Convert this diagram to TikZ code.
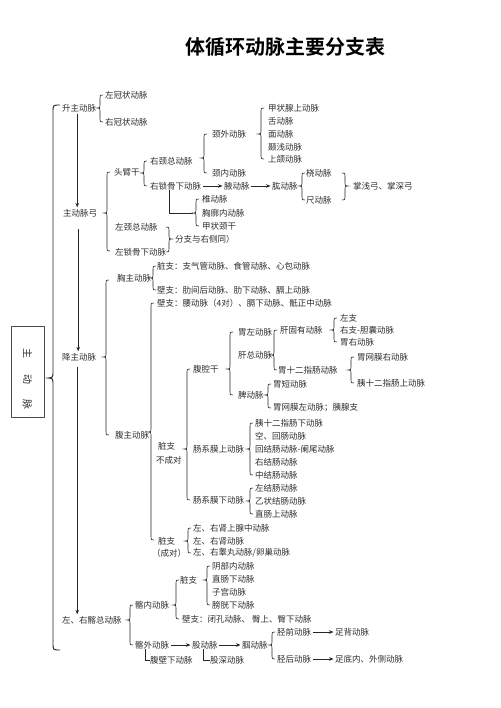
\documentclass[tikz,border=0pt]{standalone}
\usepackage{fontspec}
\newfontfamily\cjk{Noto Sans CJK SC}
\newfontfamily\cjkbold{Noto Sans CJK SC Bold}
\usetikzlibrary{arrows.meta}
% left brace: [arm]{x}{top}{tip}{bottom}
\newcommand{\mybrL}[5][3]{%
\draw[brc] ({#2+#1},#3) .. controls (#2,#3) .. (#2,{#3+#1}) -- (#2,{#4-#1}) .. controls (#2,#4) .. ({#2-#1},#4) .. controls (#2,#4) .. (#2,{#4+#1}) -- (#2,{#5-#1}) .. controls (#2,#5) .. ({#2+#1},#5);}
\newcommand{\mybrR}[5][3]{%
\draw[brc] ({#2-#1},#3) .. controls (#2,#3) .. (#2,{#3+#1}) -- (#2,{#4-#1}) .. controls (#2,#4) .. ({#2+#1},#4) .. controls (#2,#4) .. (#2,{#4+#1}) -- (#2,{#5-#1}) .. controls (#2,#5) .. ({#2-#1},#5);}
\begin{document}
\begin{tikzpicture}[x=1pt,y=-1pt,
  lbl/.style={anchor=west,inner sep=0pt,text=black!82,font=\cjk\fontsize{8.5}{10}\selectfont},
  brc/.style={line width=0.6pt,black!85},
  arr/.style={-{Stealth[length=4.5pt,width=3.5pt]},line width=0.6pt,black!85,shorten >=1.5pt,shorten <=1.5pt},
  varr/.style={arr,line width=0.85pt},
  conn/.style={line width=0.6pt,black!85}]
\useasboundingbox[fill=white] (0,0) rectangle (500,708);
% title
\node[inner sep=0pt,font=\cjkbold\fontsize{20}{22}\selectfont] (title) at (285,47) {体循环动脉主要分支表};
% left box
\node[draw=black!70,line width=0.6pt,minimum width=33pt,minimum height=91pt,inner sep=0pt] (box) at (27.5,371.5) {};
\node[rotate=-90,inner sep=0pt,text=black!82,font=\cjk\fontsize{10}{10}\selectfont] (z1) at (27.5,353) {主};
\node[rotate=-90,inner sep=0pt,text=black!82,font=\cjk\fontsize{10}{10}\selectfont] (z2) at (27.5,379) {动};
\node[rotate=-90,inner sep=0pt,text=black!82,font=\cjk\fontsize{10}{10}\selectfont] (z3) at (27.5,404) {脉};
% big brace
\begin{scope}[brc/.append style={line width=0.95pt}]
\mybrL[7]{53}{105}{378}{650}
\end{scope}
% ascending aorta
\node[lbl] (shengzhu) at (62,108) {升主动脉};
\node[lbl] (zuoguan) at (105,95) {左冠状动脉};
\node[lbl] (youguan) at (105,122) {右冠状动脉};
\mybrL{100}{95}{108}{122}
% arch
\node[lbl] (gong) at (63,213) {主动脉弓};
\draw[varr] ([xshift=-2pt]shengzhu.south) -- ([xshift=-2pt]shengzhu.south |- gong.north);
\mybrL{107}{172}{213}{251}
\node[lbl] (toubi) at (114,172) {头臂干};
\node[lbl] (zuojingzong) at (115,227) {左颈总动脉};
\node[lbl] (zuosuo) at (115,252) {左锁骨下动脉};
\mybrR{169}{227}{239}{252}
\node[lbl] (tongyou) at (175,239) {分支与右侧同）};
\mybrL{144}{161}{173}{186}
\node[lbl] (youjingzong) at (150,161) {右颈总动脉};
\node[lbl] (yousuo) at (150,186) {右锁骨下动脉};
\mybrL{204}{134}{158}{173}
\node[lbl] (jingwai) at (212,134) {颈外动脉};
\node[lbl] (jingnei) at (212,173) {颈内动脉};
\mybrL{261}{108}{134}{159}
\node[lbl] (jiazhuang) at (268,108) {甲状腺上动脉};
\node[lbl] (she) at (268,121) {舌动脉};
\node[lbl] (mian) at (268,134) {面动脉};
\node[lbl] (nie) at (268,147) {颞浅动脉};
\node[lbl] (shanghe) at (268,159) {上颌动脉};
\node[lbl] (ye) at (224,186) {腋动脉};
\node[lbl] (gong2) at (272,186) {肱动脉};
\draw[arr] (yousuo.east) -- (ye.west);
\draw[arr] (ye.east) -- (gong2.west);
\mybrL{302}{173}{186}{200}
\node[lbl] (rao) at (306,173) {桡动脉};
\node[lbl] (chi) at (306,200) {尺动脉};
\mybrR{345}{173}{186}{200}
\node[lbl] (zhang) at (353,186) {掌浅弓、掌深弓};
\mybrL{196}{199}{213}{226}
\coordinate (zhuitip) at (193,213);
\draw[conn] ([xshift=-6pt]yousuo.south) |- (zhuitip);
\node[lbl] (zhui) at (202,199) {椎动脉};
\node[lbl] (xionglang) at (202,213) {胸廓内动脉};
\node[lbl] (jiazhuangjing) at (202,226) {甲状颈干};
% descending aorta
\node[lbl] (jiang) at (62,357) {降主动脉};
\draw[varr,shorten <=12pt] ([xshift=-2pt]gong.south) -- ([xshift=-2pt]gong.south |- jiang.north);
\mybrL{106}{280}{357}{435}
\node[lbl] (xiong) at (117,278) {胸主动脉};
\mybrL{153}{266}{278}{290}
\node[lbl] (xzang) at (157,266) {脏支：支气管动脉、食管动脉、心包动脉};
\node[lbl] (xbi) at (157,290) {壁支：肋间后动脉、肋下动脉、膈上动脉};
\node[lbl] (fu) at (115,435) {腹主动脉};
\mybrL{151}{303}{432}{540}
\node[lbl] (fbi) at (157,303) {壁支：腰动脉（4对）、膈下动脉、骶正中动脉};
\node[lbl] (fzang) at (158,446) {脏支};
\node[lbl] (buchengdui) at (156,460) {不成对};
\mybrL{187}{369}{449}{500}
\node[lbl] (fuqiang) at (193,369) {腹腔干};
\mybrL{230}{332}{369}{395}
\node[lbl] (weizuo) at (238,332) {胃左动脉};
\node[lbl] (ganzong) at (238,355) {肝总动脉};
\node[lbl] (pi) at (238,395) {脾动脉};
\mybrL{274}{330}{355}{370}
\node[lbl] (gangu) at (280,330) {肝固有动脉};
\node[lbl] (weishier) at (278,370) {胃十二指肠动脉};
\mybrL{334}{318}{330}{342}
\node[lbl] (zuozhi) at (340,318) {左支};
\node[lbl] (youzhi) at (340,330) {右支-胆囊动脉};
\node[lbl] (weiyou) at (340,342) {胃右动脉};
\mybrL{351}{357}{370}{383}
\node[lbl] (wwy) at (357,357) {胃网膜右动脉};
\node[lbl] (yishier) at (357,383) {胰十二指肠上动脉};
\mybrL{268}{384}{395}{408}
\node[lbl] (weiduan) at (273,384) {胃短动脉};
\node[lbl] (wwz) at (273,408) {胃网膜左动脉；胰腺支};
\node[lbl] (changshang) at (193,449) {肠系膜上动脉};
\mybrL{250}{423}{449}{475}
\node[lbl] (ysxia) at (255,423) {胰十二指肠下动脉};
\node[lbl] (konghui) at (255,436) {空、回肠动脉};
\node[lbl] (huijie) at (255,449) {回结肠动脉-阑尾动脉};
\node[lbl] (youjie) at (255,462) {右结肠动脉};
\node[lbl] (zhongjie) at (255,475) {中结肠动脉};
\node[lbl] (changxia) at (193,500) {肠系膜下动脉};
\mybrL{250}{488}{501}{514}
\node[lbl] (zuojie) at (255,488) {左结肠动脉};
\node[lbl] (yizhuang) at (255,501) {乙状结肠动脉};
\node[lbl] (zhichangshang) at (255,514) {直肠上动脉};
\node[lbl] (fzang2) at (158,541) {脏支};
\node[lbl] (chengdui) at (152,553) {（成对）};
\mybrL{188}{528}{541}{553}
\node[lbl] (shenshang) at (193,528) {左、右肾上腺中动脉};
\node[lbl] (shen) at (193,541) {左、右肾动脉};
\node[lbl] (gaowan) at (193,553) {左、右睾丸动脉/卵巢动脉};
% iliac
\node[lbl] (qiazong) at (62,620) {左、右髂总动脉};
\draw[varr,shorten <=6pt] ([xshift=-2pt]jiang.south) -- ([xshift=-2pt]jiang.south |- qiazong.north);
\mybrL{130}{605}{620}{645}
\node[lbl] (qianei) at (135,605) {髂内动脉};
\node[lbl] (qiawai) at (135,645) {髂外动脉};
\mybrL{176}{580}{605}{619}
\node[lbl] (izang) at (180,580) {脏支};
\node[lbl] (ibi) at (182,619) {壁支：闭孔动脉、\ 臀上、臀下动脉};
\mybrL{207}{566}{580}{605}
\node[lbl] (yinbu) at (212,566) {阴部内动脉};
\node[lbl] (zhichangxia) at (212,579) {直肠下动脉};
\node[lbl] (zigong) at (212,592) {子宫动脉};
\node[lbl] (pangguang) at (212,605) {膀胱下动脉};
\node[lbl] (gu) at (192,645) {股动脉};
\node[lbl] (guo) at (242,645) {腘动脉};
\draw[arr] (qiawai.east) -- (gu.west);
\draw[arr] (gu.east) -- (guo.west);
\node[lbl] (fubixia) at (150,660) {腹壁下动脉};
\node[lbl] (gushen) at (210,660) {股深动脉};
\draw[conn] ([xshift=-7pt]qiawai.south) |- (fubixia.west);
\draw[conn] ([xshift=-2pt]gu.south) |- (gushen.west);
\mybrL{272}{632}{645}{659}
\node[lbl] (jingqian) at (277,632) {胫前动脉};
\node[lbl] (jinghou) at (277,659) {胫后动脉};
\node[lbl] (zubei) at (335,632) {足背动脉};
\node[lbl] (zudi) at (335,659) {足底内、外侧动脉};
\draw[arr] (jingqian.east) -- (zubei.west);
\draw[arr] (jinghou.east) -- (zudi.west);
\end{tikzpicture}
\end{document}
